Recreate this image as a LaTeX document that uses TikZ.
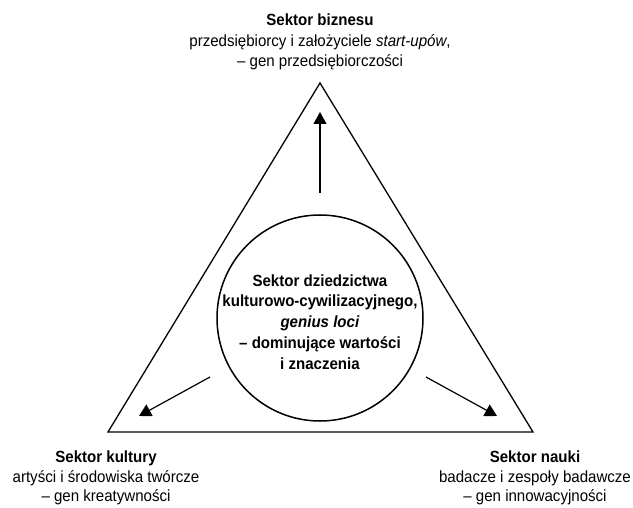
\documentclass[tikz,border=0pt]{standalone}
\usepackage{fontspec}
\setmainfont{Liberation Sans}[FakeStretch=0.93]
\usetikzlibrary{arrows.meta}
\begin{document}
\begin{tikzpicture}[x=1pt,y=-1pt,
  lbl/.style={align=center,font=\fontsize{16.2}{20.8}\selectfont,inner sep=0pt},
  lblb/.style={align=center,font=\fontsize{16.2}{19.2}\selectfont,inner sep=0pt},
  edge/.style={line width=1.3pt},
  arr/.style={line width=1.2pt,-{Triangle[length=12pt,width=13pt]}}]
\useasboundingbox (0,0) rectangle (633,508);
\coordinate (apex) at (320,83);
\coordinate (bl) at (108,432);
\coordinate (br) at (533,432);
\draw[edge,line join=miter] (apex) -- (bl) -- (br) -- cycle;
\node[circle,draw,line width=1.5pt,minimum size=206pt,inner sep=0pt] (core) at (320,318) {};
\node[lbl] (coretext) at (320,322) {\textbf{Sektor dziedzictwa}\\ \textbf{kulturowo-cywilizacyjnego,}\\ \textbf{\textit{genius loci}}\\ \textbf{– dominujące wartości}\\ \textbf{i znaczenia}};
\coordinate (s1) at (320,193);
\coordinate (t1) at (320,112);
\coordinate (s2) at (210,377);
\coordinate (t2) at (139,416);
\coordinate (s3) at (426,377);
\coordinate (t3) at (497,416);
\draw[arr] (s1) -- (t1);
\draw[arr] (s2) -- (t2);
\draw[arr] (s3) -- (t3);
\node[lbl] (biz) at (320,42) {\textbf{Sektor biznesu}\\ przedsiębiorcy i założyciele \textit{start-upów},\\ – gen przedsiębiorczości};
\node[lblb] (kult) at (106,478) {\textbf{Sektor kultury}\\ artyści i środowiska twórcze\\ – gen kreatywności};
\node[lblb] (nauka) at (535,478) {\textbf{Sektor nauki}\\ badacze i zespoły badawcze\\ – gen innowacyjności};
\end{tikzpicture}
\end{document}
